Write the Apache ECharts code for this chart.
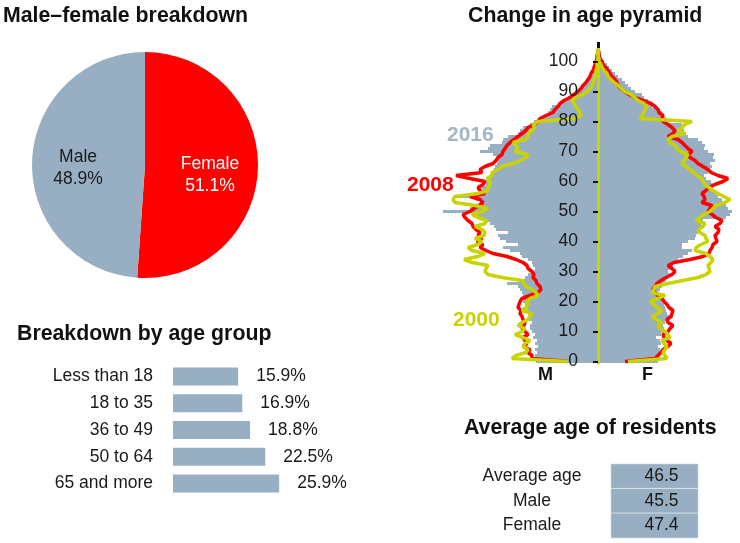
<!DOCTYPE html>
<html><head><meta charset="utf-8">
<script src="https://cdn.jsdelivr.net/npm/echarts@6/dist/echarts.min.js"></script>
<style>html,body{margin:0;padding:0;background:#fff}#c{width:740px;height:543px}</style>
</head><body><div id="c"></div>
<script>
const sexLabels = ['Female', 'Male'];
const sexShares = [51.1, 48.9];

const ageGroups = ['Less than 18', '18 to 35', '36 to 49', '50 to 64', '65 and more'];
const ageGroupShares = [15.9, 16.9, 18.8, 22.5, 25.9];

const avgLabels = ['Average age', 'Male', 'Female'];
const avgValues = [46.5, 45.5, 47.4];

const ages = Array.from({length: 105}, (_, i) => String(i));

const male2016 = [62,61,63,61,63,60,63,61,65,63,
 66,68,68,66,70,68,70,71,73,73,
 75,76,75,76,78,80,91,76,73,70,
 64,63,65,66,70,76,78,88,95,80,
 92,98,100,90,102,104,108,112,118,125,
 155,128,120,118,122,143,118,115,116,112,
 113,110,108,106,104,103,101,100,99,105,
 118,110,108,96,95,90,80,78,75,68,
 64,55,52,50,48,46,38,34,30,26,
 22,16,14,11,9,7,5,4,3,2,
 2,1,1,0,0];
const female2016 = [60,62,61,63,62,60,63,62,58,63,
 64,66,65,67,68,75,69,68,67,66,
 64,63,61,60,62,64,66,68,70,72,
 70,72,75,78,80,85,90,94,84,84,
 90,97,98,100,102,104,103,105,128,132,
 134,130,128,125,124,120,118,116,115,117,
 113,108,106,110,112,114,112,117,115,116,
 110,106,107,104,100,90,88,86,85,84,
 70,68,66,64,60,54,52,50,46,44,
 37,33,30,27,24,20,17,14,11,9,
 6,4,3,2,1];
const male2008 = [30,66,66,70,68,75,71,73,75,70,
 73,76,74,73,75,76,78,77,80,79,
 78,76,68,60,57,58,61,62,65,64,
 66,70,71,75,82,91,105,112,118,115,
 121,116,120,118,122,125,126,130,133,135,
 128,124,119,115,118,128,113,118,120,115,
 113,128,142,116,118,113,105,102,100,96,
 95,93,91,88,84,80,76,72,70,64,
 60,58,52,45,43,40,38,34,28,24,
 20,17,15,12,10,8,7,5,4,3,
 2,1,1,0,0];
const female2008 = [27,57,60,63,65,70,73,69,66,65,
 70,72,75,70,69,73,74,75,71,69,
 66,64,60,57,55,57,59,63,68,74,
 77,74,70,76,92,105,111,112,114,115,
 119,118,117,120,121,117,122,124,118,114,
 110,112,114,104,107,106,104,108,111,117,
 125,130,120,113,110,105,100,97,92,90,
 94,90,87,84,80,70,75,77,74,70,
 65,64,65,61,60,57,53,45,37,31,
 27,22,20,19,17,14,12,10,8,5,
 4,2,1,1,0];
const male2000 = [30,86,82,72,70,75,73,68,75,83,
 76,73,80,76,70,68,66,76,72,70,
 71,68,60,62,66,72,74,76,96,110,
 113,112,110,126,134,120,113,126,130,120,
 116,123,114,113,116,123,113,111,120,126,
 116,110,123,143,145,143,120,110,110,108,
 108,111,106,106,100,96,85,78,72,70,
 83,80,82,85,73,70,70,66,63,65,
 60,22,17,18,20,22,24,26,22,15,
 11,8,6,5,4,3,2,2,1,1,
 1,0,0,0,0];
const female2000 = [30,69,67,65,67,69,66,64,72,70,
 67,62,60,64,58,54,60,64,59,56,
 52,60,67,54,56,57,70,85,100,108,
 112,111,110,113,115,112,108,97,98,103,
 110,108,107,102,100,105,107,98,102,106,
 112,115,118,127,132,126,120,115,111,107,
 105,104,99,96,92,88,84,86,88,90,
 82,79,77,72,70,74,87,80,84,87,
 94,42,44,46,47,49,46,40,37,33,
 27,23,20,16,13,10,9,6,4,3,
 1,1,0,0,0];

const FONT = "'Liberation Sans', Arial, sans-serif";
const TXT = '#1a1a1a';
const GRAY = '#98aec2', RED = '#ff0000', YEL = '#c8d400';
const LBL = 17.5;
const neg = a => a.map(v => -v);

const titleStyle = {fontFamily: FONT, fontWeight: 'bold', fontSize: 21.3, color: '#111'};
const chart = echarts.init(document.getElementById('c'), null, {renderer: 'canvas'});

const pieLabelCfg = [
  {color: '#fff', padding: [0, 0, 0, 11], spacer: 17},
  {color: TXT, padding: [0, 15, 0, 0], spacer: 11}
];
const yearStyle = c => ({fontFamily: FONT, fontWeight: 'bold', fontSize: 21, color: c});
const T = (text, left, top, textStyle) => ({text, left, top, padding: 0, textStyle});

chart.setOption({
  animation: false,
  backgroundColor: '#fff',
  title: [
    T('Male\u2013female breakdown', 3, 6, titleStyle),
    T('Change in age pyramid', 468, 6, titleStyle),
    T('Breakdown by age group', 17, 324, titleStyle),
    T('Average age of residents', 464, 418, titleStyle),
    T('2016', 447, 125, yearStyle('#a3b7c9')),
    T('2008', 407, 175, yearStyle(RED)),
    T('2000', 453, 310, yearStyle(YEL)),
    T('M', 538, 366, {fontFamily: FONT, fontWeight: 'bold', fontSize: 18, color: '#111'}),
    T('F', 642, 366, {fontFamily: FONT, fontWeight: 'bold', fontSize: 18, color: '#111'})
  ],
  grid: [
    {left: 173, top: 363, width: 164, height: 134},
    {left: 433, top: 48, width: 305, height: 315},
    {left: 611, top: 464, width: 87, height: 74}
  ],
  xAxis: [
    {gridIndex: 0, type: 'value', min: 0, max: 40, show: false},
    {gridIndex: 1, type: 'value', min: -165, max: 140, show: false},
    {gridIndex: 2, type: 'category', data: ['Average age of residents'], show: false}
  ],
  yAxis: [
    {gridIndex: 0, type: 'category', data: ageGroups, inverse: true,
     axisLine: {show: false}, axisTick: {show: false},
     axisLabel: {interval: 0, margin: 20, fontFamily: FONT, fontSize: LBL, color: TXT}},
    {gridIndex: 1, type: 'category', data: ages, boundaryGap: true, z: 10, position: 'left', offset: -165,
     axisLine: {show: true, onZero: false, lineStyle: {color: YEL, width: 3}},
     axisTick: {show: true, interval: 9, alignWithLabel: true, length: 5, lineStyle: {color: '#111', width: 2}},
     axisLabel: {interval: 9, margin: 20, fontFamily: FONT, fontSize: LBL, color: TXT}},
    {gridIndex: 2, type: 'category', data: avgLabels, inverse: true,
     axisLine: {show: false}, axisTick: {show: false},
     axisLabel: {interval: 0, margin: 79, align: 'center', fontFamily: FONT, fontSize: LBL, color: TXT}}
  ],
  visualMap: [{type: 'continuous', show: false, seriesIndex: 8, min: 0, max: 100, inRange: {color: [GRAY, GRAY]}}],
  graphic: [{type: 'rect', shape: {x: 597, y: 42, width: 3, height: 6}, style: {fill: '#111'}, z: 100}],
  series: [
    {type: 'pie', center: [145, 165], radius: 113, startAngle: 90, clockwise: true, silent: true,
     data: sexLabels.map((n, i) => ({name: n, value: sexShares[i],
       itemStyle: {color: i === 0 ? RED : GRAY},
       label: {color: pieLabelCfg[i].color, padding: pieLabelCfg[i].padding,
         rich: {sp: {lineHeight: pieLabelCfg[i].spacer, fontSize: 1},
                t: {fontFamily: FONT, fontSize: LBL, lineHeight: 22, color: pieLabelCfg[i].color}}}})),
     label: {show: true, position: 'inside', fontFamily: FONT, fontSize: LBL, lineHeight: 22,
       formatter: p => '{sp| }\n{t|' + p.name + '}\n{t|' + p.value.toFixed(1) + '%}'},
     labelLine: {show: false}},
    {type: 'bar', xAxisIndex: 0, yAxisIndex: 0, data: ageGroupShares, barWidth: 18, silent: true,
     itemStyle: {color: GRAY},
     label: {show: true, position: 'right', distance: 18, fontFamily: FONT, fontSize: LBL, color: TXT,
       formatter: p => p.value.toFixed(1) + '%'}},
    {type: 'bar', xAxisIndex: 1, yAxisIndex: 1, data: neg(male2016), barGap: '-100%', barCategoryGap: '0%',
     itemStyle: {color: GRAY}, silent: true},
    {type: 'bar', xAxisIndex: 1, yAxisIndex: 1, data: female2016, barGap: '-100%', barCategoryGap: '0%',
     itemStyle: {color: GRAY}, silent: true},
    {type: 'line', xAxisIndex: 1, yAxisIndex: 1, data: neg(male2008), symbol: 'none', silent: true,
     lineStyle: {color: RED, width: 3.5}, itemStyle: {color: RED}},
    {type: 'line', xAxisIndex: 1, yAxisIndex: 1, data: female2008, symbol: 'none', silent: true,
     lineStyle: {color: RED, width: 3.5}, itemStyle: {color: RED}},
    {type: 'line', xAxisIndex: 1, yAxisIndex: 1, data: neg(male2000), symbol: 'none', silent: true,
     lineStyle: {color: YEL, width: 3.5}, itemStyle: {color: YEL}},
    {type: 'line', xAxisIndex: 1, yAxisIndex: 1, data: female2000, symbol: 'none', silent: true,
     lineStyle: {color: YEL, width: 3.5}, itemStyle: {color: YEL}},
    {type: 'heatmap', xAxisIndex: 2, yAxisIndex: 2, silent: true,
     data: avgValues.map((v, i) => [0, i, v]),
     itemStyle: {borderColor: 'rgba(255,255,255,0.6)', borderWidth: 1},
     label: {show: true, fontFamily: FONT, fontSize: LBL, color: TXT, padding: [0, 0, 0, 14],
       formatter: p => p.value[2].toFixed(1)}}
  ]
});
</script></body></html>
